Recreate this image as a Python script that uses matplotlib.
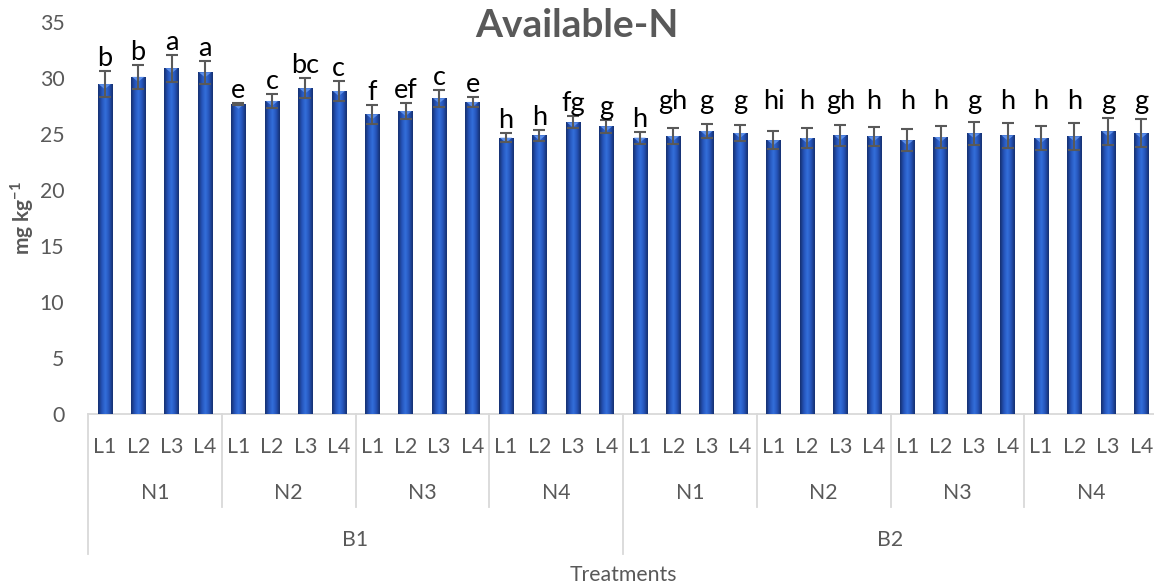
import numpy as np
import matplotlib
matplotlib.use("Agg")
import matplotlib.pyplot as plt
from matplotlib.colors import LinearSegmentedColormap
from matplotlib.patches import Polygon

plt.rcParams['font.family'] = ['Lato', 'DejaVu Sans']
plt.rcParams['mathtext.fontset'] = 'custom'
plt.rcParams['mathtext.rm'] = 'Lato'
plt.rcParams['mathtext.bf'] = 'Lato:bold'

# ---- data ----
b_levels = ["B1", "B2"]
n_levels = ["N1", "N2", "N3", "N4"]
l_levels = ["L1", "L2", "L3", "L4"]

values = [29.45, 30.10, 30.87, 30.50,
          27.70, 27.95, 29.08, 28.84,
          26.76, 27.05, 28.19, 27.86,
          24.67, 24.88, 26.04, 25.69,
          24.67, 24.82, 25.27, 25.09,
          24.45, 24.64, 24.88, 24.79,
          24.44, 24.73, 25.06, 24.88,
          24.64, 24.79, 25.24, 25.06]

errors = [1.15, 1.10, 1.20, 1.00,
          0.10, 0.65, 0.90, 0.90,
          0.85, 0.75, 0.75, 0.45,
          0.42, 0.50, 0.54, 0.60,
          0.53, 0.70, 0.65, 0.70,
          0.82, 0.86, 0.92, 0.86,
          0.98, 0.95, 1.04, 1.10,
          1.04, 1.19, 1.22, 1.25]

letters = ["b", "b", "a", "a",
           "e", "c", "bc", "c",
           "f", "ef", "c", "e",
           "h", "h", "fg", "g",
           "h", "gh", "g", "g",
           "hi", "h", "gh", "h",
           "h", "h", "g", "h",
           "h", "h", "g", "g"]

yticks = [0, 5, 10, 15, 20, 25, 30, 35]

# ---- figure ----
W, H = 1154, 588
fig = plt.figure(figsize=(W / 100, H / 100), dpi=100)
ax_left, ax_right = 88, 1158
ax_top, ax_bot = 22, 414
ax = fig.add_axes([ax_left / W, (H - ax_bot) / H,
                   (ax_right - ax_left) / W, (ax_bot - ax_top) / H])

n = len(values)
x = np.arange(n)
bw = 0.43
gray = '#595959'
linec = '#D9D9D9'
lab_fs = 15.3

cmap = LinearSegmentedColormap.from_list(
    'barg', ['#15306E', '#2553B8', '#3370DC', '#2553B8', '#15306E'])
grad = np.linspace(0, 1, 64).reshape(1, -1)

bars = ax.bar(x, values, width=bw, color='#2A5CC8', edgecolor='none', zorder=2)
for rect in bars:
    x0 = rect.get_x()
    w = rect.get_width()
    h = rect.get_height()
    im = ax.imshow(grad, extent=[x0, x0 + w, 0, h], aspect='auto', cmap=cmap,
                   zorder=2.1, interpolation='bicubic')
    im.set_clip_path(rect)
    tri = Polygon([[x0 + 0.08 * w, h], [x0 + 0.92 * w, h], [x0 + w / 2, h - 0.45]],
                  closed=True, facecolor='#5C8FEA', edgecolor='none', zorder=2.2)
    ax.add_patch(tri)

ax.errorbar(x, values, yerr=errors, fmt='none', ecolor=gray, elinewidth=1.5,
            capsize=4, capthick=1.5, zorder=3)

b2_label_level = 27.2
for i, (v, e, t) in enumerate(zip(values, errors, letters)):
    y = v + e + 0.45
    if i >= 17:
        y = b2_label_level
    ax.text(i, y, t, ha='center', va='baseline', fontsize=19.5, color='black', zorder=4)

ax.set_xlim(-0.5, n - 0.5)
ax.set_ylim(0, 35)
ax.set_yticks(yticks)
ax.set_yticklabels([str(t) for t in yticks])
ax.tick_params(axis='y', length=0, pad=17, labelsize=lab_fs, labelcolor=gray)
ax.set_xticks([])
for s in ax.spines.values():
    s.set_visible(False)

trans = ax.get_xaxis_transform()
# main axis line
ax.plot([-0.5, n - 0.5], [0, 0], color=linec, lw=1.3, transform=trans,
        clip_on=False, zorder=1)

ax_h = ax_bot - ax_top
def fy(py):
    return (ax_bot - py) / ax_h

y_l = fy(447)
y_n = fy(493)
y_b = fy(540)
y_t = fy(575)
y_nsep = fy(507)
y_bsep = fy(554)

# L labels
for i in range(n):
    ax.text(i, y_l, l_levels[i % 4], transform=trans, ha='center', va='center',
            fontsize=lab_fs, color=gray)
# N labels and separators
for g in range(n // 4):
    ax.text(g * 4 + 1.5, y_n, n_levels[g % 4], transform=trans, ha='center',
            va='center', fontsize=lab_fs, color=gray)
    xs = g * 4 - 0.5
    if g % 4 != 0:
        ax.plot([xs, xs], [0, y_nsep], color=linec, lw=1.3, transform=trans,
                clip_on=False)
# B labels and separators
for b in range(2):
    ax.text(b * 16 + 7.5, y_b, b_levels[b], transform=trans, ha='center',
            va='center', fontsize=lab_fs, color=gray)
    xs = b * 16 - 0.5
    ax.plot([xs, xs], [0, y_bsep], color=linec, lw=1.3, transform=trans,
            clip_on=False)
ax.plot([n - 0.5, n - 0.5], [0, y_bsep], color=linec, lw=1.3, transform=trans,
        clip_on=False)

ax.text((n - 1) / 2, y_t, "Treatments", transform=trans, ha='center',
        va='center', fontsize=lab_fs, color=gray)

fig.text(0.5, 1 - 37 / H, "Available-N", ha='center', va='baseline',
         fontsize=28, fontweight='bold', color=gray)
fig.text(22 / W, (H - (ax_bot + ax_top) / 2) / H, r'mg kg$^{\mathbf{-1}}$',
         rotation=90, ha='center', va='center', fontsize=15, fontweight='bold',
         color=gray)

fig.savefig("out.png", dpi=100)
